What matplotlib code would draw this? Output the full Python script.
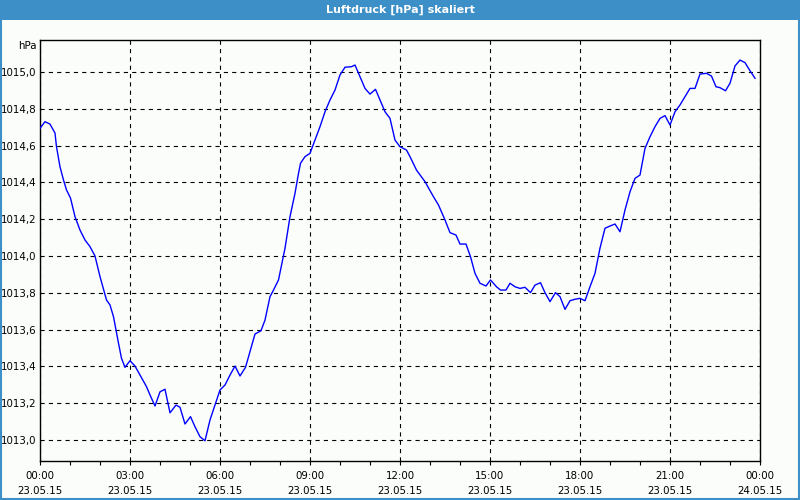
import numpy as np
import matplotlib
matplotlib.use("Agg")
import matplotlib.pyplot as plt
from matplotlib.patches import Rectangle
from matplotlib.ticker import FixedLocator, FuncFormatter

# Messzeit in Minuten ab 23.05.15 00:00, Luftdruck in hPa
minutes = [0, 10, 20, 30, 33, 40, 47, 53, 61, 70, 80, 90, 100, 110, 120, 133, 140, 147,
           157, 163, 170, 180, 190, 200, 213, 220, 230, 240, 250, 260, 272, 280, 290, 301,
           310, 320, 330, 340, 350, 360, 370, 380, 390, 400, 411, 420, 430, 442, 450, 460,
           467, 477, 490, 500, 510, 517, 521, 530, 540, 550, 560, 570, 580, 590, 600, 610,
           623, 630, 640, 650, 660, 671, 680, 690, 700, 710, 720, 733, 740, 753, 770, 787,
           797, 810, 820, 832, 840, 852, 861, 870, 880, 892, 901, 913, 921, 932, 940, 950,
           960, 970, 981, 990, 1001, 1010, 1020, 1031, 1040, 1050, 1060, 1070, 1080, 1090,
           1100, 1110, 1120, 1130, 1140, 1150, 1160, 1170, 1180, 1190, 1200, 1210, 1220,
           1230, 1240, 1250, 1260, 1270, 1280, 1290, 1300, 1310, 1320, 1333, 1343, 1352,
           1360, 1371, 1380, 1390, 1400, 1410, 1420, 1430]
pressure = [1014.694, 1014.730, 1014.717, 1014.668, 1014.594, 1014.485, 1014.413, 1014.359,
            1014.315, 1014.214, 1014.141, 1014.087, 1014.051, 1014.000, 1013.888, 1013.761,
            1013.734, 1013.670, 1013.526, 1013.444, 1013.395, 1013.431, 1013.402, 1013.353,
            1013.290, 1013.245, 1013.185, 1013.262, 1013.276, 1013.148, 1013.190, 1013.178,
            1013.087, 1013.127, 1013.072, 1013.018, 1012.996, 1013.109, 1013.190, 1013.272,
            1013.299, 1013.353, 1013.402, 1013.348, 1013.395, 1013.480, 1013.576, 1013.594,
            1013.652, 1013.779, 1013.815, 1013.870, 1014.042, 1014.214, 1014.341, 1014.449,
            1014.504, 1014.540, 1014.558, 1014.630, 1014.703, 1014.784, 1014.848, 1014.902,
            1014.984, 1015.026, 1015.029, 1015.038, 1014.975, 1014.911, 1014.880, 1014.906,
            1014.848, 1014.784, 1014.748, 1014.630, 1014.594, 1014.576, 1014.540, 1014.467,
            1014.404, 1014.322, 1014.277, 1014.196, 1014.127, 1014.114, 1014.065, 1014.065,
            1013.996, 1013.906, 1013.852, 1013.837, 1013.870, 1013.833, 1013.815, 1013.815,
            1013.852, 1013.833, 1013.824, 1013.830, 1013.801, 1013.842, 1013.855, 1013.801,
            1013.752, 1013.801, 1013.779, 1013.710, 1013.757, 1013.765, 1013.770, 1013.757,
            1013.833, 1013.906, 1014.043, 1014.151, 1014.163, 1014.174, 1014.132, 1014.250,
            1014.349, 1014.422, 1014.440, 1014.585, 1014.648, 1014.703, 1014.748, 1014.763,
            1014.712, 1014.784, 1014.821, 1014.866, 1014.911, 1014.911, 1014.989, 1014.993,
            1014.978, 1014.920, 1014.915, 1014.898, 1014.939, 1015.033, 1015.065, 1015.051,
            1015.007, 1014.966]

x_ticks = [0, 3, 6, 9, 12, 15, 18, 21, 24]
x_labels = ["00:00\n23.05.15", "03:00\n23.05.15", "06:00\n23.05.15", "09:00\n23.05.15",
            "12:00\n23.05.15", "15:00\n23.05.15", "18:00\n23.05.15", "21:00\n23.05.15",
            "00:00\n24.05.15"]
y_ticks = [1013.0, 1013.2, 1013.4, 1013.6, 1013.8, 1014.0, 1014.2, 1014.4, 1014.6, 1014.8, 1015.0]

title = "Luftdruck [hPa] skaliert"
bg = "#fbfdfb"
bar_blue = "#3d8fc7"

fig = plt.figure(figsize=(8, 5), dpi=100, facecolor=bg)
ax = fig.add_axes([0.05, 0.078, 0.9, 0.842], facecolor=bg)

hours = np.array(minutes) / 60.0
ax.plot(hours, pressure, color="#0000ff", lw=1.0, zorder=3)

ax.set_xlim(0, 24)
ax.set_ylim(1012.886, 1015.174)

ax.set_xticks(x_ticks)
ax.set_xticklabels(x_labels, fontsize=7.4, linespacing=1.7)
ax.xaxis.set_minor_locator(FixedLocator(range(25)))
ax.tick_params(axis="x", which="both", direction="out", length=3, width=0.8, pad=4)
ax.set_yticks(y_ticks)
ax.yaxis.set_major_formatter(FuncFormatter(lambda v, p: f"{v:.1f}".replace(".", ",")))
ax.tick_params(axis="y", length=0, pad=2.5, labelsize=7.4)

ax.grid(True, which="major", color="black", lw=0.8, linestyle=(0, (3.75, 3.75)))
for s in ax.spines.values():
    s.set_color("black")
    s.set_linewidth(1.0)

fig.text(0.046, 0.908, "hPa", fontsize=7.4, ha="right", va="center")

# blauer Titelbalken und Rahmen
fig.patches.append(Rectangle((0, 0.96), 1, 0.04, transform=fig.transFigure,
                             facecolor=bar_blue, edgecolor="none"))
fig.patches.append(Rectangle((0.001, 0.002), 0.998, 0.996, transform=fig.transFigure,
                             fill=False, edgecolor=bar_blue, lw=1.5))
fig.text(0.5, 0.98, title, color="white", fontsize=8, fontweight="bold",
         ha="center", va="center")

fig.savefig("out.png", dpi=100, facecolor=bg)
